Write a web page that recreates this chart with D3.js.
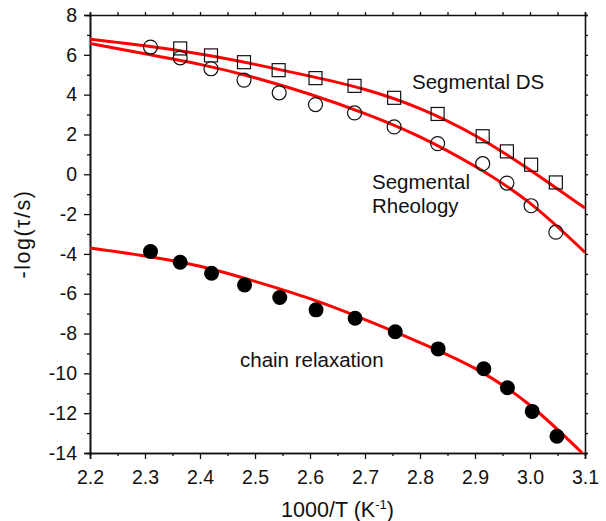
<!DOCTYPE html>
<html><head><meta charset="utf-8">
<script src="https://cdn.jsdelivr.net/npm/d3@7"></script>
<style>body{margin:0;background:#fff}svg{display:block}text{font-family:Arial,"Liberation Sans",sans-serif;fill:#111}</style>
</head><body><svg id="c" width="606" height="521"></svg>
<script>
const xTicks = [2.2,2.3,2.4,2.5,2.6,2.7,2.8,2.9,3.0,3.1];
const xTickLabels = ["2.2","2.3","2.4","2.5","2.6","2.7","2.8","2.9","3.0","3.1"];
const yTicks = [8,6,4,2,0,-2,-4,-6,-8,-10,-12,-14];

const xChain = [2.310,2.364,2.421,2.481,2.545,2.611,2.682,2.755,2.833,2.916,2.959,3.004,3.049];
const yChain = [-3.88,-4.42,-4.97,-5.56,-6.19,-6.81,-7.23,-7.91,-8.77,-9.77,-10.72,-11.91,-13.16];

const xRheo = [2.310,2.364,2.420,2.480,2.544,2.610,2.681,2.753,2.832,2.914,2.958,3.002,3.047];
const yRheo = [6.39,5.85,5.30,4.73,4.09,3.50,3.08,2.38,1.54,0.53,-0.44,-1.58,-2.91];

const xDS = [2.364,2.420,2.480,2.543,2.610,2.681,2.753,2.832,2.914,2.958,3.002,3.047];
const yDS = [6.32,5.97,5.63,5.23,4.83,4.44,3.84,3.03,1.91,1.15,0.48,-0.41];

// fitted curves
const xFitDS = [2.2,2.3,2.4,2.5,2.6,2.7,2.8,2.9,3.0,3.1];
const yFitDS = [6.78,6.45,6.04,5.52,4.93,4.26,3.30,1.95,0.22,-1.70];
const xFitRheo = [2.2,2.3,2.4,2.5,2.6,2.7,2.8,2.9,3.0,3.1];
const yFitRheo = [6.57,6.05,5.52,4.85,4.02,3.05,1.88,0.40,-1.45,-3.92];
const xFitChain = [2.2,2.3,2.4,2.5,2.6,2.7,2.8,2.9,3.0,3.095];
const yFitChain = [-3.70,-4.10,-4.62,-5.38,-6.25,-7.30,-8.45,-9.75,-11.60,-14.0];

const svg = d3.select("#c");
const L=90,R=585,T=15,B=453;
const x = d3.scaleLinear().domain([2.2,3.1]).range([L,R]);
const y = d3.scaleLinear().domain([-14,8]).range([B,T]);

const minorX = d3.range(0,9).map(i=>2.25+i*0.1);
const minorY = d3.range(0,11).map(i=>7-i*2);

// bottom axis
svg.append("g").attr("transform",`translate(0,${B})`)
  .call(d3.axisBottom(x).tickValues(xTicks).tickFormat((d,i)=>xTickLabels[i]).tickSize(6).tickPadding(11));
svg.append("g").attr("transform",`translate(0,${B})`)
  .call(d3.axisBottom(x).tickValues(minorX).tickFormat("").tickSize(3));
// left axis
svg.append("g").attr("transform",`translate(${L},0)`)
  .call(d3.axisLeft(y).tickValues(yTicks).tickFormat(d=>d).tickSize(6).tickPadding(7));
svg.append("g").attr("transform",`translate(${L},0)`)
  .call(d3.axisLeft(y).tickValues(minorY).tickFormat("").tickSize(3));
// top and right axes
svg.append("g").attr("transform",`translate(0,${T})`)
  .call(d3.axisTop(x).tickValues(xTicks.concat(minorX)).tickFormat("").tickSize(3));
svg.append("g").attr("transform",`translate(${R},0)`)
  .call(d3.axisRight(y).tickValues(yTicks.concat(minorY)).tickFormat("").tickSize(3));

svg.selectAll(".domain").attr("stroke","#111").attr("stroke-width",1.6);
svg.selectAll(".tick line").attr("stroke","#111").attr("stroke-width",1.3);
svg.selectAll(".tick text").attr("font-size",19.5).attr("fill","#111")
  .style("font-family","Arial, 'Liberation Sans', sans-serif");

// axis titles
const xt = svg.append("text").attr("x",(L+R)/2).attr("y",517).attr("text-anchor","middle").attr("font-size",21.5);
xt.append("tspan").text("1000/T (K");
xt.append("tspan").attr("dy",-8).attr("font-size",13).text("-1");
xt.append("tspan").attr("dy",8).text(")");
svg.append("text").attr("transform",`translate(30,${(T+B)/2}) rotate(-90)`)
  .attr("text-anchor","middle").attr("font-size",21.5).attr("letter-spacing",1.5).text("-log(τ/s)");

// fits
const line = d3.line().x(d=>x(d[0])).y(d=>y(d[1])).curve(d3.curveNatural);
svg.append("clipPath").attr("id","cp").append("rect").attr("x",L).attr("y",T).attr("width",R-L).attr("height",B-T);
[[xFitDS,yFitDS],[xFitRheo,yFitRheo],[xFitChain,yFitChain]].forEach(([xs,ys])=>{
  svg.append("path").datum(xs.map((v,i)=>[v,ys[i]])).attr("d",line)
    .attr("fill","none").attr("stroke","#ff0000").attr("stroke-width",3).attr("clip-path","url(#cp)");
});

// markers
svg.selectAll(".sq").data(xDS.map((v,i)=>[v,yDS[i]])).enter().append("rect")
  .attr("x",d=>x(d[0])-6.5).attr("y",d=>y(d[1])-6.5).attr("width",13).attr("height",13)
  .attr("fill","none").attr("stroke","#111").attr("stroke-width",1.2);
svg.selectAll(".oc").data(xRheo.map((v,i)=>[v,yRheo[i]])).enter().append("circle")
  .attr("cx",d=>x(d[0])).attr("cy",d=>y(d[1])).attr("r",7)
  .attr("fill","none").attr("stroke","#111").attr("stroke-width",1.2);
svg.selectAll(".fc").data(xChain.map((v,i)=>[v,yChain[i]])).enter().append("ellipse")
  .attr("cx",d=>x(d[0])).attr("cy",d=>y(d[1])).attr("rx",7.5).attr("ry",7.5)
  .attr("fill","#000");

// labels
svg.append("text").attr("x",412).attr("y",89).attr("font-size",20.5).text("Segmental DS");
svg.append("text").attr("x",372).attr("y",189).attr("font-size",20.5).text("Segmental");
svg.append("text").attr("x",372).attr("y",213).attr("font-size",20.5).text("Rheology");
svg.append("text").attr("x",240).attr("y",367).attr("font-size",20.5).text("chain relaxation");
</script></body></html>
